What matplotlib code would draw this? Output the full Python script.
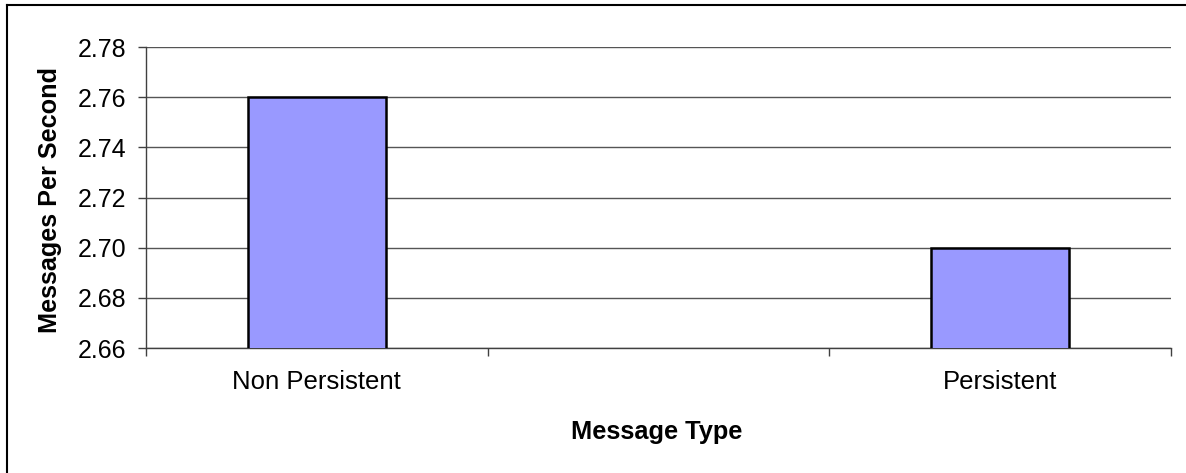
import numpy as np
import matplotlib
matplotlib.use("Agg")
import matplotlib.pyplot as plt
from matplotlib.lines import Line2D
from matplotlib.ticker import FormatStrFormatter

# chart data (middle category is an empty slot, as in the original sheet)
categories = ["Non Persistent", "", "Persistent"]
messages_per_second = [2.76, np.nan, 2.70]
y_ticks = [2.66, 2.68, 2.70, 2.72, 2.74, 2.76, 2.78]

W, H = 1186, 473
plt.rcParams['font.family'] = ['Liberation Sans', 'DejaVu Sans']

fig = plt.figure(figsize=(W / 100, H / 100), dpi=100)
ax = fig.add_axes([146 / W, 1 - 348 / H, (1171 - 146) / W, (348 - 47) / H])

x = np.arange(len(categories))
ax.bar(x, messages_per_second, width=0.404, color='#9999FF',
       edgecolor='black', linewidth=1.8, zorder=3)

ax.set_xlim(-0.5, len(categories) - 0.5)
ax.set_ylim(y_ticks[0], y_ticks[-1])
ax.set_yticks(y_ticks)
ax.yaxis.set_major_formatter(FormatStrFormatter('%.2f'))

# category boundaries as ticks, names centred between them
ax.set_xticks(np.arange(len(categories) + 1) - 0.5)
ax.set_xticklabels([])
ax.set_xticks(x, minor=True)
ax.set_xticklabels(categories, minor=True)
ax.tick_params(axis='x', which='minor', length=0, pad=16, labelsize=18.5)
ax.tick_params(axis='x', which='major', length=6, width=1, color='#404040')
ax.tick_params(axis='y', length=6, width=1, color='#404040', pad=8, labelsize=18)

ax.grid(axis='y', color='#555555', linewidth=1, zorder=0)
ax.set_axisbelow(True)
for side in ('top', 'right'):
    ax.spines[side].set_visible(False)
for side in ('left', 'bottom'):
    ax.spines[side].set_color('#404040')
    ax.spines[side].set_linewidth(1)

fig.text(50 / W, 1 - 200 / H, 'Messages Per Second', rotation=90,
         ha='center', va='center', fontsize=18.2, fontweight='bold')
fig.text(657 / W, 1 - 432 / H, 'Message Type',
         ha='center', va='center', fontsize=18.3, fontweight='bold')

# outer chart border (only top and left are visible in the crop)
fig.add_artist(Line2D([7 / W, 7 / W], [0, 1 - 5.5 / H], color='black', linewidth=1.5))
fig.add_artist(Line2D([7 / W, 1], [1 - 5.5 / H, 1 - 5.5 / H], color='black', linewidth=1.5))

fig.savefig('out.png', dpi=100)
